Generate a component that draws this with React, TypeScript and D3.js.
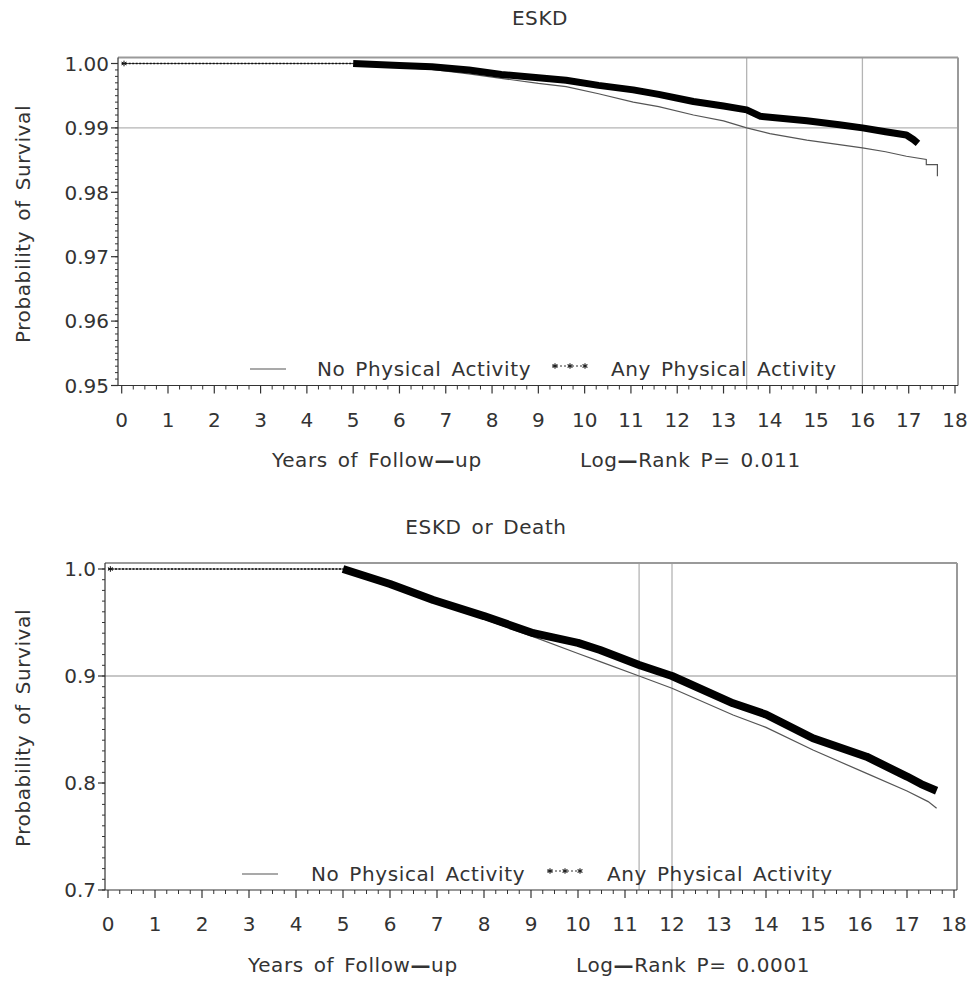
import React from 'react';
import * as d3 from 'd3';

// ---------- data (years of follow-up, probability of survival) ----------
const xTickValues = d3.range(0, 19);

const eskdYTicks = [0.95, 0.96, 0.97, 0.98, 0.99, 1.0];
const deathYTicks = [0.7, 0.8, 0.9, 1.0];

const eskdNoPA: [number, number][] = [
  [0, 1.0], [5.0, 1.0], [5.5, 0.9998], [6.0, 0.9994], [6.7, 0.9991], [7.5, 0.9984],
  [8.2, 0.9977], [9.0, 0.9969], [9.6, 0.9964], [10.3, 0.9953], [11.05, 0.994],
  [11.6, 0.9933], [12.35, 0.992], [13.0, 0.9911], [13.5, 0.99], [14.0, 0.9891],
  [14.8, 0.9881], [15.5, 0.9874], [16.0, 0.9869], [16.5, 0.9863], [16.95, 0.9856],
  [17.38, 0.9851], [17.38, 0.9843], [17.62, 0.9843], [17.62, 0.9825],
];
const eskdAnyPA: [number, number][] = [
  [5.0, 1.0], [6.0, 0.9997], [6.7, 0.9995], [7.5, 0.999], [8.2, 0.9983], [9.0, 0.9978],
  [9.6, 0.9974], [10.3, 0.9966], [11.05, 0.9959], [11.6, 0.9952], [12.35, 0.9941],
  [13.0, 0.9934], [13.5, 0.9928], [13.8, 0.9918], [14.8, 0.9911], [15.5, 0.9905],
  [16.0, 0.99], [16.5, 0.9894], [16.95, 0.9889], [17.1, 0.9882], [17.2, 0.9876],
];
const eskdRefX = [13.5, 16.0];
const eskdRefY = 0.99;

const deathNoPA: [number, number][] = [
  [0, 1.0], [5.0, 1.0], [6.0, 0.984], [7.0, 0.969], [8.0, 0.953], [9.0, 0.9375],
  [10.0, 0.921], [10.5, 0.913], [11.3, 0.9], [12.0, 0.8885], [13.3, 0.8636],
  [14.0, 0.852], [15.0, 0.8308], [16.14, 0.809], [17.0, 0.7925], [17.45, 0.7826],
  [17.63, 0.7764],
];
const deathAnyPA: [number, number][] = [
  [5.0, 1.0], [6.0, 0.986], [6.92, 0.971], [8.0, 0.956], [9.05, 0.94], [10.0, 0.931],
  [10.47, 0.9243], [11.3, 0.9103], [12.0, 0.9], [13.3, 0.8745], [14.0, 0.864],
  [15.0, 0.8418], [16.14, 0.8246], [17.0, 0.806], [17.3, 0.799], [17.63, 0.7928],
];
const deathRefX = [11.3, 12.0];
const deathRefY = 0.9;

const legendNames = ['No Physical Activity', 'Any Physical Activity'];
const titles = ['ESKD', 'ESKD or Death'];
const pValues = ['0.011', '0.0001'];

// ---------- drawing ----------
const FONT = 'DejaVu Sans, Verdana, sans-serif';

type PanelProps = {
  title: string;
  titleX: number;
  titleY: number;
  frame: { l: number; r: number; t: number; b: number };
  xRange: [number, number];
  yRange: [number, number];
  yDomain: [number, number];
  yTicks: number[];
  yFmt: (v: number) => string;
  yMinor: number;
  noPA: [number, number][];
  anyPA: [number, number][];
  refX: number[];
  refY: number;
  bandW: number;
  legendY: number;
  legendX: number[]; // line sample start, text1 start, stars start, text2 start
  xLabelY: number;
  xLabelX: number;
  pLabelX: number;
  pText: string;
  yLabelCY: number;
};

function Panel(p: PanelProps) {
  const x = d3.scaleLinear().domain([0, 18]).range(p.xRange);
  const y = d3.scaleLinear().domain(p.yDomain).range(p.yRange);
  const line = d3.line<[number, number]>().x((d) => x(d[0])).y((d) => y(d[1])).curve(d3.curveLinear);
  const { l, r, t, b } = p.frame;
  const xMinor = d3.range(0, 18.001, 0.25).filter((v) => Math.abs(v - Math.round(v)) > 1e-6);
  const nMinor = Math.round((p.yDomain[1] - p.yDomain[0]) / p.yMinor);
  const yMinorTicks = d3.range(0, nMinor + 1).map((i) => p.yDomain[0] + i * p.yMinor);
  const star = d3.symbol(d3.symbolAsterisk, 22)()!;
  const axisColor = '#333';
  return (
    <g fontFamily={FONT}>
      <text x={p.titleX} y={p.titleY} fontSize={20} textAnchor="middle" fill="#333" letterSpacing={0.6} wordSpacing={3}>
        {p.title}
      </text>
      {/* reference lines */}
      <line x1={l} x2={r} y1={y(p.refY)} y2={y(p.refY)} stroke="#b4b4b4" strokeWidth={1.3} />
      {p.refX.map((v) => (
        <line key={v} x1={x(v)} x2={x(v)} y1={t} y2={b} stroke="#b4b4b4" strokeWidth={1.3} />
      ))}
      {/* frame */}
      <line x1={l} x2={r} y1={t} y2={t} stroke="#9a9a9a" strokeWidth={2} />
      <line x1={r} x2={r} y1={t} y2={b} stroke="#9a9a9a" strokeWidth={2} />
      <line x1={l} x2={l} y1={t} y2={b} stroke={axisColor} strokeWidth={1.2} />
      <line x1={l} x2={r} y1={b} y2={b} stroke={axisColor} strokeWidth={1.2} />
      {/* y ticks */}
      {yMinorTicks.map((v, i) => (
        <line key={'ym' + i} x1={l - 3} x2={l} y1={y(v)} y2={y(v)} stroke={axisColor} strokeWidth={1} />
      ))}
      {p.yTicks.map((v) => (
        <g key={'y' + v}>
          <line x1={l - 7} x2={l} y1={y(v)} y2={y(v)} stroke={axisColor} strokeWidth={1.2} />
          <text x={l - 9} y={y(v) + 7.3} fontSize={20} textAnchor="end" fill="#333">
            {p.yFmt(v)}
          </text>
        </g>
      ))}
      {/* x ticks */}
      {xMinor.map((v, i) => (
        <line key={'xm' + i} x1={x(v)} x2={x(v)} y1={b} y2={b + 4} stroke={axisColor} strokeWidth={1} />
      ))}
      {xTickValues.map((v) => (
        <g key={'x' + v}>
          <line x1={x(v)} x2={x(v)} y1={b} y2={b + 8} stroke={axisColor} strokeWidth={1.2} />
          <text x={x(v)} y={b + 41} fontSize={20} textAnchor="middle" fill="#333">
            {v}
          </text>
        </g>
      ))}
      {/* curves */}
      <path d={line(p.noPA)!} fill="none" stroke="#555" strokeWidth={1.2} />
      <line x1={x(0)} x2={x(5)} y1={y(1)} y2={y(1)} stroke="#111" strokeWidth={1.3} strokeDasharray="2 1.5" />
      <path d={star} transform={`translate(${x(0.05)},${y(1)})`} stroke="#111" strokeWidth={1} fill="none" />
      <path d={line(p.anyPA)!} fill="none" stroke="#000" strokeWidth={p.bandW} strokeLinejoin="round" />
      {/* legend */}
      <line x1={p.legendX[0]} x2={p.legendX[0] + 36} y1={p.legendY - 5} y2={p.legendY - 5} stroke="#555" strokeWidth={1.2} />
      <text x={p.legendX[1]} y={p.legendY + 2} fontSize={20} fill="#333" letterSpacing={0.6} wordSpacing={3}>
        {legendNames[0]}
      </text>
      <line x1={p.legendX[2]} x2={p.legendX[2] + 36} y1={p.legendY - 8} y2={p.legendY - 8} stroke="#333" strokeWidth={1} strokeDasharray="2 2" />
      {[0, 1, 2].map((i) => (
        <path key={i} d={star} transform={`translate(${p.legendX[2] + 3 + i * 15},${p.legendY - 8})`} stroke="#222" strokeWidth={1.1} fill="none" />
      ))}
      <text x={p.legendX[3]} y={p.legendY + 2} fontSize={20} fill="#333" letterSpacing={0.6} wordSpacing={3}>
        {legendNames[1]}
      </text>
      {/* axis labels */}
      <text x={p.xLabelX} y={p.xLabelY} fontSize={20} fill="#333" letterSpacing={0.6} wordSpacing={3}>
        Years of Follow<tspan fontWeight="bold">—</tspan>up
      </text>
      <text x={p.pLabelX} y={p.xLabelY} fontSize={20} fill="#333" letterSpacing={0.6} wordSpacing={3}>
        Log<tspan fontWeight="bold">—</tspan>Rank P= {p.pText}
      </text>
      <text
        transform={`translate(30,${p.yLabelCY}) rotate(-90)`}
        fontSize={20}
        textAnchor="middle"
        fill="#333"
        letterSpacing={0.6}
        wordSpacing={3}
      >
        Probability of Survival
      </text>
    </g>
  );
}

export default function App() {
  return (
    <svg width={968} height={984} style={{ display: 'block', position: 'absolute', left: 0, top: 0, background: '#fff' }}>
      <rect width={968} height={984} fill="#fff" />
      <Panel
        title={titles[0]}
        titleX={540}
        titleY={25}
        frame={{ l: 118, r: 958, t: 57.5, b: 385.5 }}
        xRange={[121.7, 955]}
        yRange={[385.5, 63.5]}
        yDomain={[0.95, 1.0]}
        yTicks={eskdYTicks}
        yFmt={d3.format('.2f')}
        yMinor={0.001}
        noPA={eskdNoPA}
        anyPA={eskdAnyPA}
        refX={eskdRefX}
        refY={eskdRefY}
        bandW={7}
        legendY={374}
        legendX={[250, 317, 552, 611]}
        xLabelY={467}
        xLabelX={272}
        pLabelX={580}
        pText={pValues[0]}
        yLabelCY={224}
      />
      <Panel
        title={titles[1]}
        titleX={486}
        titleY={534}
        frame={{ l: 105, r: 957, t: 563, b: 890 }}
        xRange={[108, 954]}
        yRange={[890, 569]}
        yDomain={[0.7, 1.0]}
        yTicks={deathYTicks}
        yFmt={d3.format('.1f')}
        yMinor={0.01}
        noPA={deathNoPA}
        anyPA={deathAnyPA}
        refX={deathRefX}
        refY={deathRefY}
        bandW={8}
        legendY={879}
        legendX={[242, 311, 547, 607]}
        xLabelY={972}
        xLabelX={248}
        pLabelX={576}
        pText={pValues[1]}
        yLabelCY={728}
      />
    </svg>
  );
}
